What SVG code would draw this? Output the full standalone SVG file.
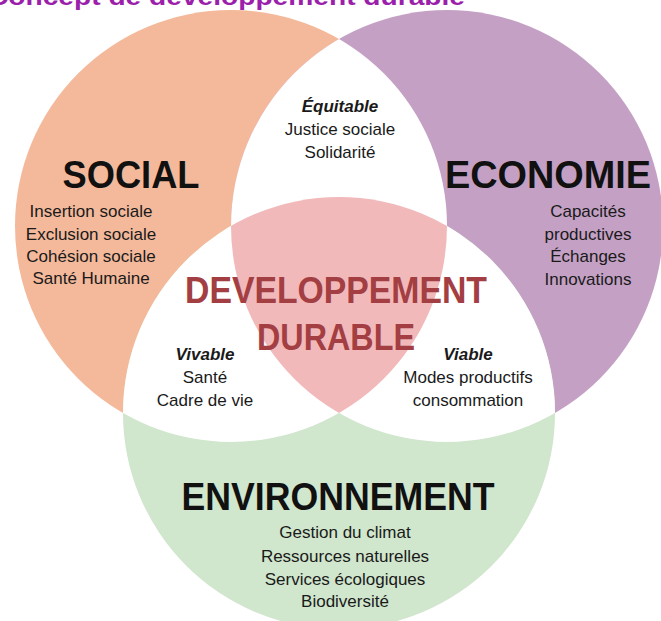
<svg xmlns="http://www.w3.org/2000/svg" width="661" height="621" viewBox="0 0 661 621">
<style>
.t{font-family:"Liberation Sans",Arial,sans-serif;font-size:17px;fill:#1a1a1a;text-anchor:middle}
.bi{font-weight:bold;font-style:italic}
.h{font-family:"Liberation Sans",Arial,sans-serif;font-size:38px;font-weight:bold;fill:#111;text-anchor:middle}
.dd{font-family:"Liberation Sans",Arial,sans-serif;font-size:37px;font-weight:bold;fill:#A33E42;text-anchor:middle}
</style>
<defs>
<clipPath id="cS"><circle cx="231" cy="226" r="216"/></clipPath>
<clipPath id="cE"><circle cx="447" cy="226" r="216"/></clipPath>
<clipPath id="cV"><circle cx="339" cy="413" r="216"/></clipPath>
</defs>
<rect width="661" height="621" fill="#ffffff"/>
<text x="-12" y="5" font-family="Liberation Sans,Arial,sans-serif" font-size="23" font-weight="bold" fill="#9B1FAB" textLength="477" lengthAdjust="spacingAndGlyphs">Concept de développement durable</text>
<g id="social"><circle cx="231" cy="226" r="216" fill="#F4B99B"/></g>
<g id="economie"><circle cx="447" cy="226" r="216" fill="#C4A1C4"/></g>
<g id="environnement"><circle cx="339" cy="413" r="216" fill="#D0E6CD"/></g>
<g id="intersections">
<circle cx="447" cy="226" r="216" fill="#ffffff" clip-path="url(#cS)"/>
<circle cx="339" cy="413" r="216" fill="#ffffff" clip-path="url(#cS)"/>
<circle cx="339" cy="413" r="216" fill="#ffffff" clip-path="url(#cE)"/>
<g clip-path="url(#cS)"><circle cx="447" cy="226" r="216" fill="#F2B9BA" clip-path="url(#cV)"/></g>
</g>
<g id="connectors"></g>
<g id="social-text">
<text class="h" x="131" y="188" textLength="137" lengthAdjust="spacingAndGlyphs">SOCIAL</text>
<text class="t" x="91" y="217">Insertion sociale</text>
<text class="t" x="91" y="240">Exclusion sociale</text>
<text class="t" x="91" y="262">Cohésion sociale</text>
<text class="t" x="91" y="284">Santé Humaine</text>
</g>
<g id="economie-text">
<text class="h" x="548" y="188" textLength="206" lengthAdjust="spacingAndGlyphs">ECONOMIE</text>
<text class="t" x="588" y="217">Capacités</text>
<text class="t" x="588" y="240">productives</text>
<text class="t" x="588" y="262">Échanges</text>
<text class="t" x="588" y="285">Innovations</text>
</g>
<g id="equitable">
<text class="t bi" x="340" y="112">Équitable</text>
<text class="t" x="340" y="135">Justice sociale</text>
<text class="t" x="340" y="158">Solidarité</text>
</g>
<g id="durable">
<text class="dd" x="336" y="303" textLength="302" lengthAdjust="spacingAndGlyphs">DEVELOPPEMENT</text>
<text class="dd" x="336" y="350" textLength="158" lengthAdjust="spacingAndGlyphs">DURABLE</text>
</g>
<g id="vivable">
<text class="t bi" x="205" y="360">Vivable</text>
<text class="t" x="205" y="383">Santé</text>
<text class="t" x="205" y="406">Cadre de vie</text>
</g>
<g id="viable">
<text class="t bi" x="468" y="360">Viable</text>
<text class="t" x="468" y="383">Modes productifs</text>
<text class="t" x="468" y="406">consommation</text>
</g>
<g id="environnement-text">
<text class="h" x="338" y="510" textLength="313" lengthAdjust="spacingAndGlyphs">ENVIRONNEMENT</text>
<text class="t" x="345" y="538">Gestion du climat</text>
<text class="t" x="345" y="562">Ressources naturelles</text>
<text class="t" x="345" y="585">Services écologiques</text>
<text class="t" x="345" y="607">Biodiversité</text>
</g>
</svg>
